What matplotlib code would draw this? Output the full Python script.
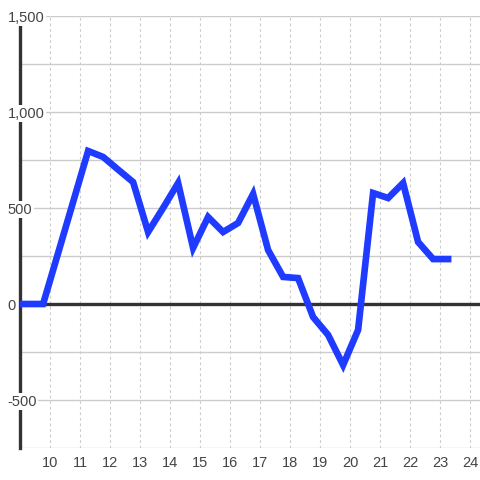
import matplotlib.pyplot as plt

plt.rcParams['font.family'] = ['Liberation Sans', 'DejaVu Sans']

# data
hours = [8.77, 9.27, 9.77, 10.27, 10.77, 11.27, 11.77, 12.27, 12.77, 13.27,
         13.77, 14.27, 14.77, 15.27, 15.77, 16.27, 16.77, 17.27, 17.77, 18.27,
         18.77, 19.27, 19.77, 20.27, 20.77, 21.27, 21.77, 22.27, 22.77, 23.27]
values = [0, 0, 0, 265, 531, 797, 766, 700, 635, 375,
          500, 630, 292, 453, 375, 422, 573, 281, 141, 135,
          -68, -161, -318, -135, 578, 552, 630, 323, 234, 234]

x_ticks = [10, 11, 12, 13, 14, 15, 16, 17, 18, 19, 20, 21, 22, 23, 24]
y_ticks = [-500, 0, 500, 1000, 1500]
y_grid = [-750, -500, -250, 0, 250, 500, 750, 1000, 1250, 1500]

fig = plt.figure(figsize=(4.8, 4.8), dpi=100)
ax = fig.add_axes([20/480, 32/480, 460/480, 432/480])

# grid drawn by hand so the tick labels can sit on top of the spine
for g in y_grid:
  ax.axhline(g, color='#cccccc', linewidth=1, zorder=1)
for t in x_ticks:
  ax.axvline(t, color='#cccccc', linewidth=0.8, linestyle=(0, (2.5, 2.5)), zorder=1)
ax.axhline(0, color='#333333', linewidth=2.4, zorder=2)

ax.plot(hours, values, color='#1f3bff', linewidth=4.8, solid_joinstyle='miter', zorder=3)

ax.set_xlim(9, 9 + 460/30)
ax.set_ylim(-750, 1500)

for s in ['top', 'right', 'bottom']:
  ax.spines[s].set_visible(False)
ax.spines['left'].set_color('#333333')
ax.spines['left'].set_linewidth(2.4)

ax.set_xticks(x_ticks)
ax.set_yticks(y_ticks)
ax.set_yticklabels([f'{v:,}' for v in y_ticks])
ax.tick_params(axis='both', length=0, labelsize=10.5, colors='#444444')
ax.tick_params(axis='x', pad=6)
ax.tick_params(axis='y', pad=9)
for lbl in ax.get_yticklabels():
  lbl.set_horizontalalignment('left')
  lbl.set_bbox(dict(facecolor='white', edgecolor='none', pad=1))
ax.yaxis.set_zorder(4)

fig.savefig('out.png', dpi=100)
